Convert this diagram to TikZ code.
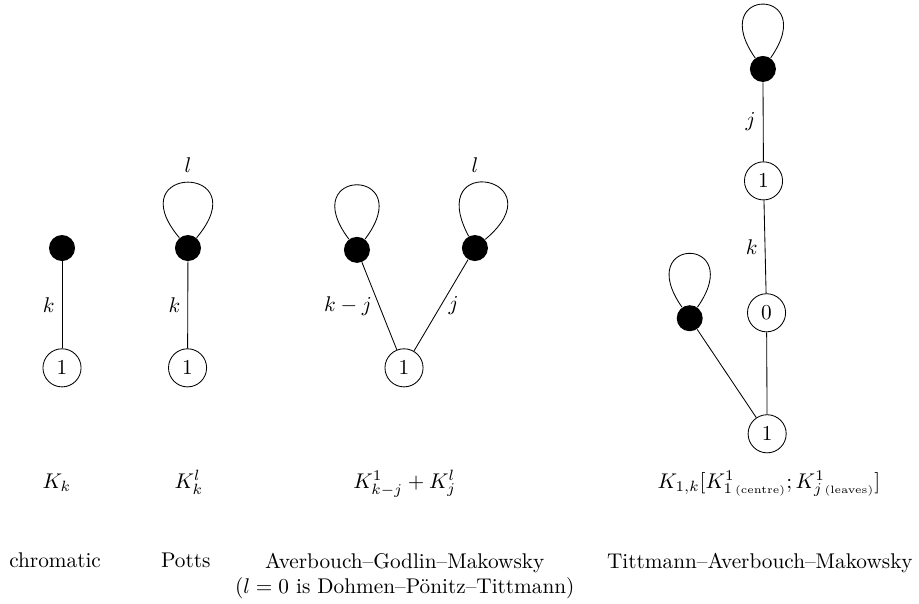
\documentclass[tikz,border=0pt]{standalone}
\usetikzlibrary{positioning}

\begin{document}
\begin{tikzpicture}
		\tikzstyle{blackvertex}=[circle,fill=black,inner sep=0pt,minimum size=0.43cm]
		\tikzstyle{whitevertex}=[circle,draw,inner sep=0pt,minimum size=0.63cm]
		\tikzstyle{bigloop}=[out=130,in=50,distance=1.6cm]
		\tikzstyle{midloop}=[out=127,in=53,distance=1.5cm]
		\tikzstyle{smallloop}=[out=125,in=55,distance=1.45cm]
		\tikzstyle{leanloop}=[out=118,in=40,distance=1.6cm]
		\tikzstyle{graphlabel}=[anchor=base]
		\tikzstyle{polyname}=[anchor=north,align=center]
		
		\useasboundingbox (0,0) rectangle (15.19,-9.97);
		
		% chromatic
		\node[blackvertex] (c1) at (1.025,-4.10) {};
		\node[whitevertex] (c0) at (1.025,-6.08) {$1$};
		\draw (c1) -- node[left] {$k$} (c0);
		\node[graphlabel] (cg) at (0.94,-8.07) {$K_k$};
		\node[polyname] (cn) at (0.91,-9.02) {chromatic};
		
		% Potts
		\node[blackvertex] (p1) at (3.107,-4.10) {};
		\node[whitevertex] (p0) at (3.10,-6.08) {$1$};
		\draw (p1) -- node[left] {$k$} (p0);
		\draw (p1) to[bigloop] (p1);
		\node[above=1.13cm of p1.center] (pl) {$l$};
		\node[graphlabel] (pg) at (3.12,-8.07) {$K_k^l$};
		\node[polyname] (pn) at (3.07,-9.02) {Potts};
		
		% Averbouch-Godlin-Makowsky
		\node[blackvertex] (a1) at (5.90,-4.13) {};
		\node[blackvertex] (a2) at (7.85,-4.10) {};
		\node[whitevertex] (a0) at (6.678,-6.08) {$1$};
		\draw (a1) -- node[left] {$k-j$} (a0);
		\draw (a2) -- node[right] {$j$} (a0);
		\draw (a1) to[midloop] (a1);
		\draw (a2) to[leanloop] (a2);
		\node[above=1.13cm of a2.center] (al) {$l$};
		\node[graphlabel] (ag) at (6.69,-8.07) {$K_{k-j}^1+K_j^l$};
		\node[polyname] (an) at (6.69,-9.02) {Averbouch--Godlin--Makowsky\\($l=0$ is Dohmen--P\"onitz--Tittmann)};
		
		% Tittmann-Averbouch-Makowsky
		\node[blackvertex] (t3) at (12.61,-1.14) {};
		\node[whitevertex] (t2) at (12.62,-2.99) {$1$};
		\node[whitevertex] (t1) at (12.67,-5.17) {$0$};
		\node[whitevertex] (t0) at (12.68,-7.17) {$1$};
		\node[blackvertex] (tl) at (11.40,-5.26) {};
		\draw (t3) -- node[left] {$j$} (t2);
		\draw (t2) -- node[left] {$k$} (t1);
		\draw (t1) -- (t0);
		\draw (tl) -- (t0);
		\draw (t3) to[smallloop] (t3);
		\draw (tl) to[smallloop] (tl);
		\node[graphlabel] (tg) at (12.71,-8.07) {$K_{1,k}[K^1_{1\,\scriptscriptstyle(\mathrm{centre})};K^1_{j\,\scriptscriptstyle(\mathrm{leaves})}]$};
		\node[polyname] (tn) at (12.56,-9.02) {Tittmann--Averbouch--Makowsky};
\end{tikzpicture}
\end{document}
